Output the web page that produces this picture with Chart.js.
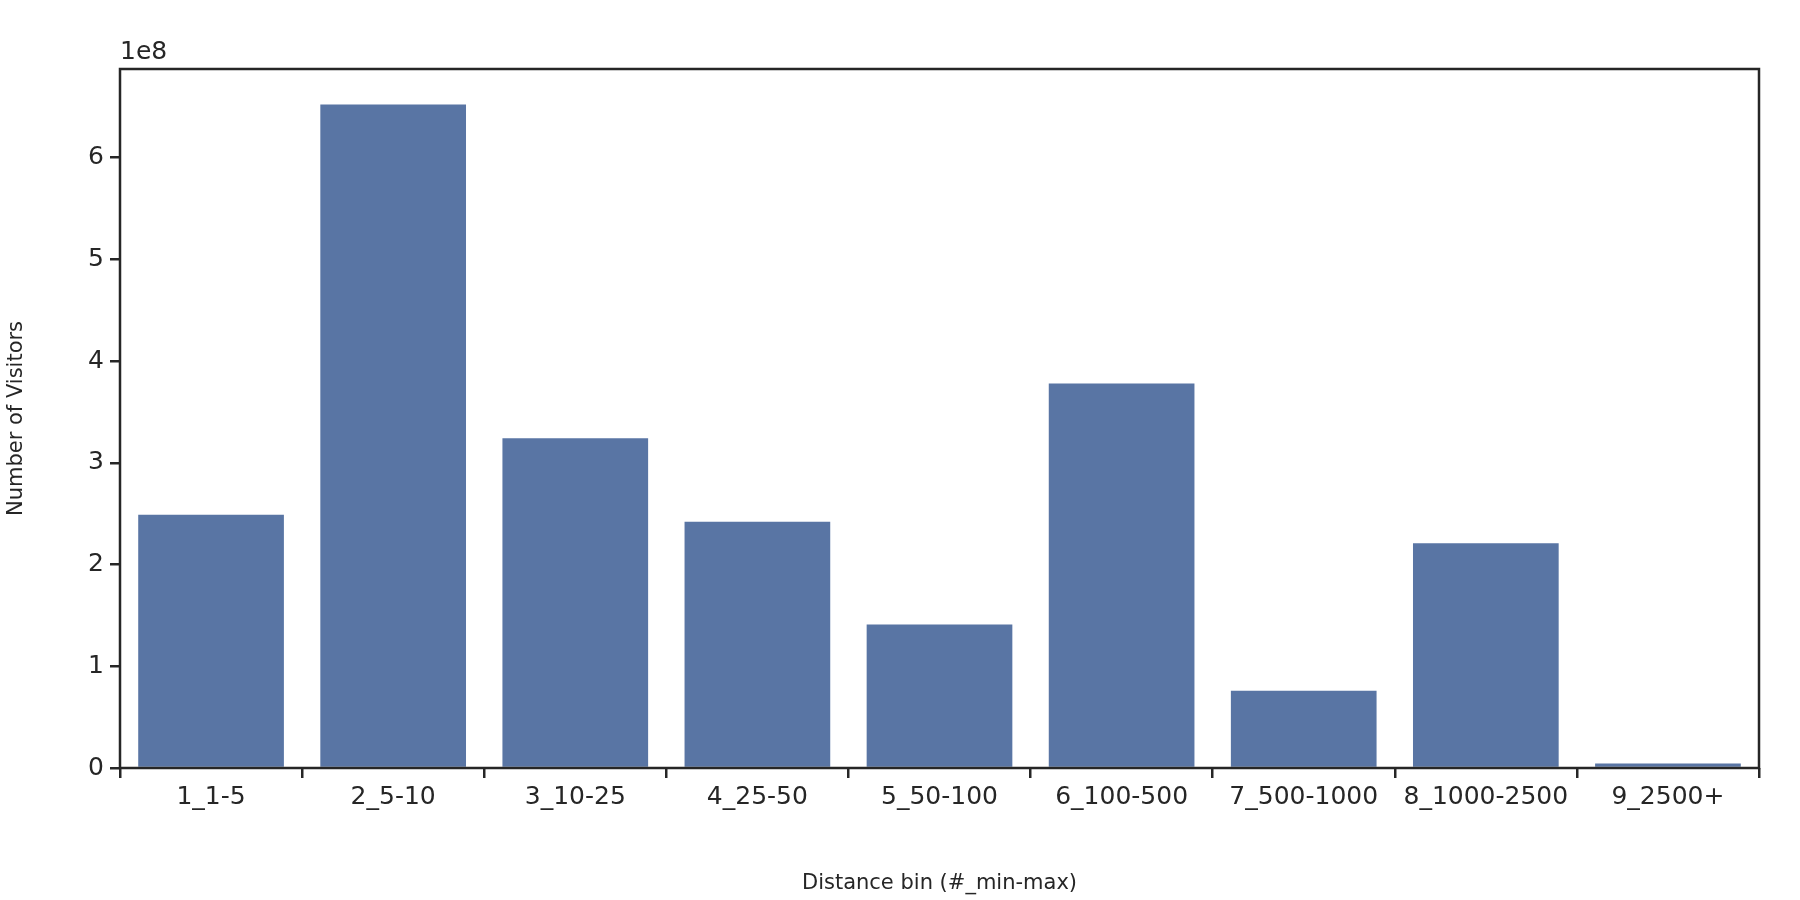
<!DOCTYPE html>
<html>
<head>
<meta charset="utf-8">
<script src="https://cdn.jsdelivr.net/npm/chart.js@4"></script>
<style>
  html, body { margin: 0; background: #fff; }
  canvas { display: block; }
</style>
</head>
<body>
<canvas id="c" width="1800" height="900"></canvas>
<script>
// ── Data ──────────────────────────────────────────────────────────────────────
const categories = ['1_1-5', '2_5-10', '3_10-25', '4_25-50', '5_50-100',
                    '6_100-500', '7_500-1000', '8_1000-2500', '9_2500+'];
const visitors   = [2.49e8, 6.52e8, 3.24e8, 2.42e8, 1.41e8, 3.78e8, 0.76e8, 2.21e8, 0.045e8];
const yTicks     = [0, 1, 2, 3, 4, 5, 6];

const INK  = '#262626';
const FONT = "'DejaVu Sans', sans-serif";

// frame around the plot plus the "1e8" offset label
const framePlugin = {
  id: 'frame',
  afterDraw(chart) {
    const { ctx, chartArea: a } = chart;
    ctx.save();
    ctx.strokeStyle = INK;
    ctx.lineWidth = 2.5;
    ctx.strokeRect(a.left, a.top, a.right - a.left, a.bottom - a.top);
    ctx.fillStyle = INK;
    ctx.font = `25px ${FONT}`;
    ctx.textBaseline = 'bottom';
    ctx.fillText('1e8', a.left, a.top - 4);
    ctx.restore();
  },
};

new Chart(document.getElementById('c'), {
  type: 'bar',
  data: {
    labels: categories,
    datasets: [{
      data:               visitors,
      backgroundColor:    '#5975a4',
      barPercentage:      0.8,
      categoryPercentage: 1.0,
    }],
  },
  options: {
    responsive: false,
    animation:  false,
    layout: { padding: { top: 69, right: 41, left: 0, bottom: 0 } },
    plugins: { legend: { display: false }, tooltip: { enabled: false } },
    scales: {
      x: {
        afterFit: (s) => { s.height = 132; },
        grid:   { display: true, drawOnChartArea: false, drawTicks: true, tickLength: 10, color: INK, lineWidth: 2.5 },
        border: { display: false },
        ticks:  { color: INK, font: { family: FONT, size: 25 }, maxRotation: 0, autoSkip: false, padding: 4 },
        title:  { display: true, text: 'Distance bin (#_min-max)', color: INK, font: { family: FONT, size: 21 }, padding: { top: 2 } },
      },
      y: {
        min: 0,
        max: 6.87e8,
        afterFit: (s) => { s.width = 120; },
        afterBuildTicks: (s) => { s.ticks = yTicks.map((v) => ({ value: v * 1e8 })); },
        grid:   { display: true, drawOnChartArea: false, drawTicks: true, tickLength: 10, color: INK, lineWidth: 2.5 },
        border: { display: false },
        ticks:  { color: INK, font: { family: FONT, size: 25 }, padding: 6, callback: (v) => String(v / 1e8) },
        title:  { display: true, text: 'Number of Visitors', color: INK, font: { family: FONT, size: 21 }, padding: { bottom: 8 } },
      },
    },
  },
  plugins: [framePlugin],
});
</script>
</body>
</html>
